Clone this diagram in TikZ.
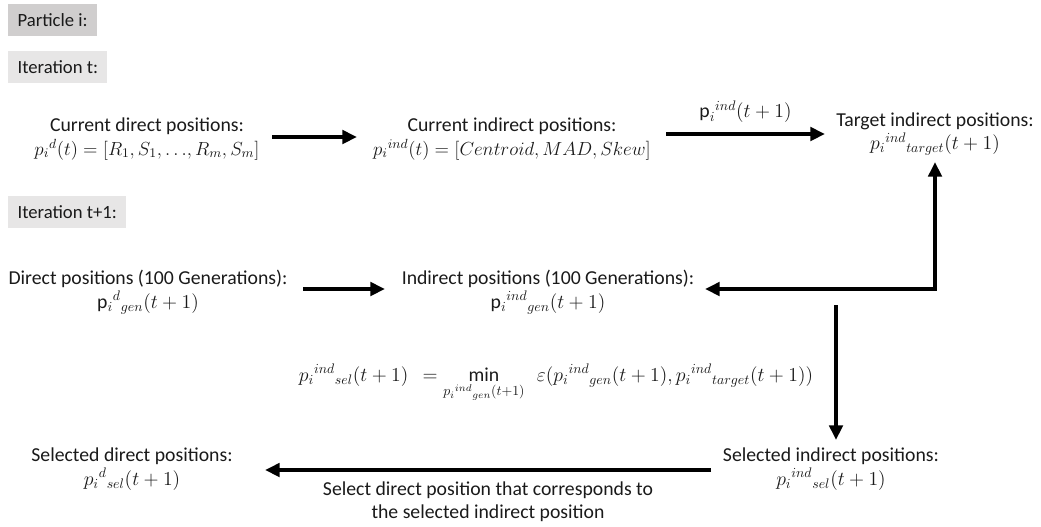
\documentclass[tikz,border=0pt]{standalone}
\usepackage{fix-cm}
\usepackage{amsmath}
\usepackage{fontspec}
\setmainfont{Carlito}
\usetikzlibrary{arrows.meta}
\definecolor{txtc}{HTML}{1A1A1A}
\definecolor{hdrdark}{HTML}{D0CECE}
\definecolor{hdrlight}{HTML}{E7E6E6}
\tikzset{
  txt/.style={align=center, text=txtc, font=\fontsize{14.8}{17.5}\selectfont, inner sep=2pt},
  hdr/.style={anchor=north west, text=txtc, font=\fontsize{14}{16}\selectfont, inner xsep=7pt, minimum height=23.5pt},
  arr/.style={line width=3pt, -{Triangle[length=11pt,width=10pt]}},
  arrboth/.style={line width=3pt, {Triangle[length=11pt,width=10pt]}-{Triangle[length=11pt,width=10pt]}},
}
\newcommand{\dts}{{\ldotp\ldotp\ldotp}}
\newcommand{\ms}{\fontsize{14.2}{17.5}\selectfont}
\begin{document}
\begin{tikzpicture}[x=0.75pt,y=-0.75pt]
\useasboundingbox (0,0) rectangle (1041,526);
% headers
\node[hdr, fill=hdrdark] (hp) at (8,4) {Particle i:};
\node[hdr, fill=hdrlight] (ht) at (8,51) {Iteration t:};
\node[hdr, fill=hdrlight] (ht1) at (8,196) {Iteration t+1:};
% row 1
\node[txt] (cd) at (147,139) {Current direct positions:\\ \ms$p_i{}^d(t) = [R_1, S_1, \dts, R_m, S_m]$};
\node[txt] (ci) at (512,139) {Current indirect positions:\\ \ms$p_i{}^{ind}(t) = [Centroid, MAD, Skew]$};
\node[txt] (tg) at (935,134) {Target indirect positions:\\ $p_i{}^{ind}{}_{target}(t+1)$};
% row 2
\node[txt] (dg) at (148,292) {Direct positions (100 Generations):\\ $\text{p}_i{}^{d}{}_{gen}(t+1)$};
\node[txt] (ig) at (548,292) {Indirect positions (100 Generations):\\ $\text{p}_i{}^{ind}{}_{gen}(t+1)$};
% formula
\node[txt] (fm) at (556,383) {$\displaystyle p_i{}^{ind}{}_{sel}(t+1)\ \ = \min_{p_i{}^{ind}{}_{gen}(t+1)}\ \ \varepsilon(p_i{}^{ind}{}_{gen}(t+1), p_i{}^{ind}{}_{target}(t+1))$};
% row 3
\node[txt] (si) at (831,469) {Selected indirect positions:\\ $p_i{}^{ind}{}_{sel}(t+1)$};
\node[txt] (sd) at (132,469) {Selected direct positions:\\ $p_i{}^{d}{}_{sel}(t+1)$};
% arrows
\draw[arr] ([xshift=93.75pt,yshift=1.5pt]cd.center) -- ([xshift=-116.25pt,yshift=1.5pt]ci.center);
\draw[arr] ([xshift=115.5pt,yshift=3.75pt]ci.center) -- ([xshift=-82.5pt]tg.center)
  node[midway, above=5pt, txt] (lb) {$\text{p}_i{}^{ind}(t+1)$};
\draw[arr] ([xshift=116.25pt,yshift=2.25pt]dg.center) -- ([xshift=-122.25pt,yshift=2.25pt]ig.center);
\draw[arrboth] ([xshift=117.75pt,yshift=2.25pt]ig.center) -| ([yshift=-21pt]tg.center);
\coordinate (dtop) at (836,305);
\draw[arr] (dtop) -- ([yshift=21.75pt]si.center -| dtop);
\draw[arr] ([xshift=-90pt,yshift=-0.75pt]si.center) -- ([xshift=99.75pt,yshift=-0.75pt]sd.center)
  node[midway, below=5pt, txt] (lb2) {Select direct position that corresponds to\\ the selected indirect position};
\end{tikzpicture}
\end{document}
